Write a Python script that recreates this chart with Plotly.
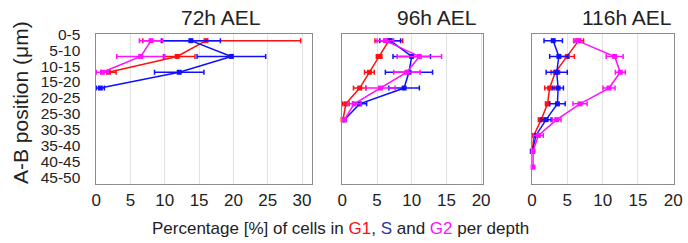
import plotly.graph_objects as go

# ---- data ----
depth_labels = ["0-5", "5-10", "10-15", "15-20", "20-25", "25-30",
                "30-35", "35-40", "40-45", "45-50"]
panel_titles = ["72h AEL", "96h AEL", "116h AEL"]

g1_72 = [16.0, 11.8, 1.8]
g1_72_plus = [13.8, 2.6, 1.1]
g1_72_minus = [9.2, 2.0, 1.1]
s_72 = [13.8, 19.7, 12.1, 0.6]
s_72_err = [4.3, 5.0, 3.6, 0.6]
g2_72 = [8.0, 6.5, 0.9]
g2_72_err = [1.7, 3.5, 0.9]

g1_96 = [6.7, 5.3, 3.9, 2.5, 0.5, 0.1]
g1_96_err = [2.0, 0.4, 0.7, 0.9, 0.5, 0.1]
s_96 = [6.9, 10.0, 9.6, 8.9, 2.5, 0.3]
s_96_err = [1.5, 2.7, 3.4, 2.2, 1.0, 0.1]
g2_96 = [6.2, 11.1, 9.3, 5.5, 1.7, 0.3]
g2_96_err = [1.2, 3.2, 1.9, 2.1, 1.0, 0.1]

g1_116 = [6.6, 5.0, 3.3, 2.5, 2.2, 1.3, 0.25, 0.05]
g1_116_err = [0.7, 1.0, 0.6, 0.7, 0.3, 0.4, 0.2, 0.05]
s_116 = [3.0, 3.8, 3.5, 3.7, 3.6, 2.0, 0.55, 0.05]
s_116_err = [1.3, 1.3, 1.5, 0.75, 1.1, 0.7, 0.3, 0.05]
g2_116 = [6.4, 11.7, 12.5, 10.9, 6.8, 3.5, 0.9, 0.15, 0.15]
g2_116_err = [0.5, 1.2, 0.7, 0.85, 1.0, 0.6, 0.7, 0.05, 0.05]

x_ranges = [[-0.1, 31.45], [-0.05, 20.2], [0, 20.1]]
x_ticks = [[0, 5, 10, 15, 20, 25, 30], [0, 5, 10, 15, 20], [0, 5, 10, 15, 20]]

RED = "#ff1010"
BLUE = "#1010ff"
MAG = "#ff10ff"

W, H = 688, 243
fig = go.Figure()


def add(vals, plus, minus, color, k):
    n = len(vals)
    ys = list(range(n))
    sfx = "" if k == 1 else str(k)
    fig.add_trace(go.Scatter(
        x=vals, y=ys, mode="lines+markers",
        line=dict(color=color, width=1.5),
        marker=dict(color=color, size=5, symbol="square"),
        error_x=dict(type="data", symmetric=False, array=plus, arrayminus=minus,
                     color=color, thickness=1.5, width=2.5),
        xaxis="x" + sfx, yaxis="y" + sfx, showlegend=False, cliponaxis=False))


add(g1_72, g1_72_plus, g1_72_minus, RED, 1)
add(s_72, s_72_err, s_72_err, BLUE, 1)
add(g2_72, g2_72_err, g2_72_err, MAG, 1)
add(g1_96, g1_96_err, g1_96_err, RED, 2)
add(s_96, s_96_err, s_96_err, BLUE, 2)
add(g2_96, g2_96_err, g2_96_err, MAG, 2)
add(g1_116, g1_116_err, g1_116_err, RED, 3)
add(s_116, s_116_err, s_116_err, BLUE, 3)
add(g2_116, g2_116_err, g2_116_err, MAG, 3)

# layout geometry (pixels -> paper fractions)
x_doms = [[95.5 / W, 312 / W], [342 / W, 482.5 / W], [532 / W, 674 / W]]
y_dom = [1 - 184.3 / H, 1 - 34 / H]
y_range = [9.09, -0.42]
tickvals = [i * 1.006 - 0.4 for i in range(len(depth_labels))]

layout = dict(width=W, height=H, margin=dict(l=0, r=0, t=0, b=0),
              paper_bgcolor="white", plot_bgcolor="white",
              font=dict(family="Liberation Sans, Arial, sans-serif", color="#222"))
for k in range(3):
    sfx = "" if k == 0 else str(k + 1)
    layout["xaxis" + sfx] = dict(
        domain=x_doms[k], range=x_ranges[k], anchor="y" + sfx,
        tickvals=x_ticks[k], showgrid=True, gridcolor="#e2e2e2", gridwidth=1,
        zeroline=False, showline=True, linecolor="#8c8c8c", linewidth=1.2,
        mirror=True, ticks="", tickfont=dict(size=17, color="#222"),
        automargin=False, fixedrange=True)
    layout["yaxis" + sfx] = dict(
        domain=y_dom, range=y_range, anchor="x" + sfx,
        tickvals=tickvals, ticktext=depth_labels if k == 0 else None,
        showticklabels=(k == 0), showgrid=False, zeroline=False,
        showline=True, linecolor="#8c8c8c", linewidth=1.2, mirror=True,
        ticks="", tickfont=dict(size=15.5, color="#222"), ticklabelstandoff=11,
        automargin=False, fixedrange=True)
fig.update_layout(**layout)

title_x = [220, 436, 627]
anns = []
for k, t in enumerate(panel_titles):
    anns.append(dict(text=t, x=title_x[k] / W, y=1 - 17 / H, xref="paper", yref="paper",
                     showarrow=False, xanchor="center", yanchor="middle",
                     font=dict(size=21, color="#222")))
anns.append(dict(text="A-B position (μm)", x=21 / W, y=1 - 103 / H, xref="paper",
                 yref="paper", showarrow=False, textangle=-90, xanchor="center",
                 yanchor="middle", font=dict(size=21, color="#222")))
anns.append(dict(
    text="Percentage [%] of cells in <span style='color:#ff1010'>G1</span>, "
         "<span style='color:#33339a'>S</span> and "
         "<span style='color:#ff10ff'>G2</span> per depth",
    x=340 / W, y=1 - 228 / H, xref="paper", yref="paper", showarrow=False,
    xanchor="center", yanchor="middle", font=dict(size=17, color="#222")))
fig.update_layout(annotations=anns)

fig.write_html("out.html", config={"displayModeBar": False},
               post_script="document.body.style.margin='0';"
                           "document.body.style.overflow='hidden';")
